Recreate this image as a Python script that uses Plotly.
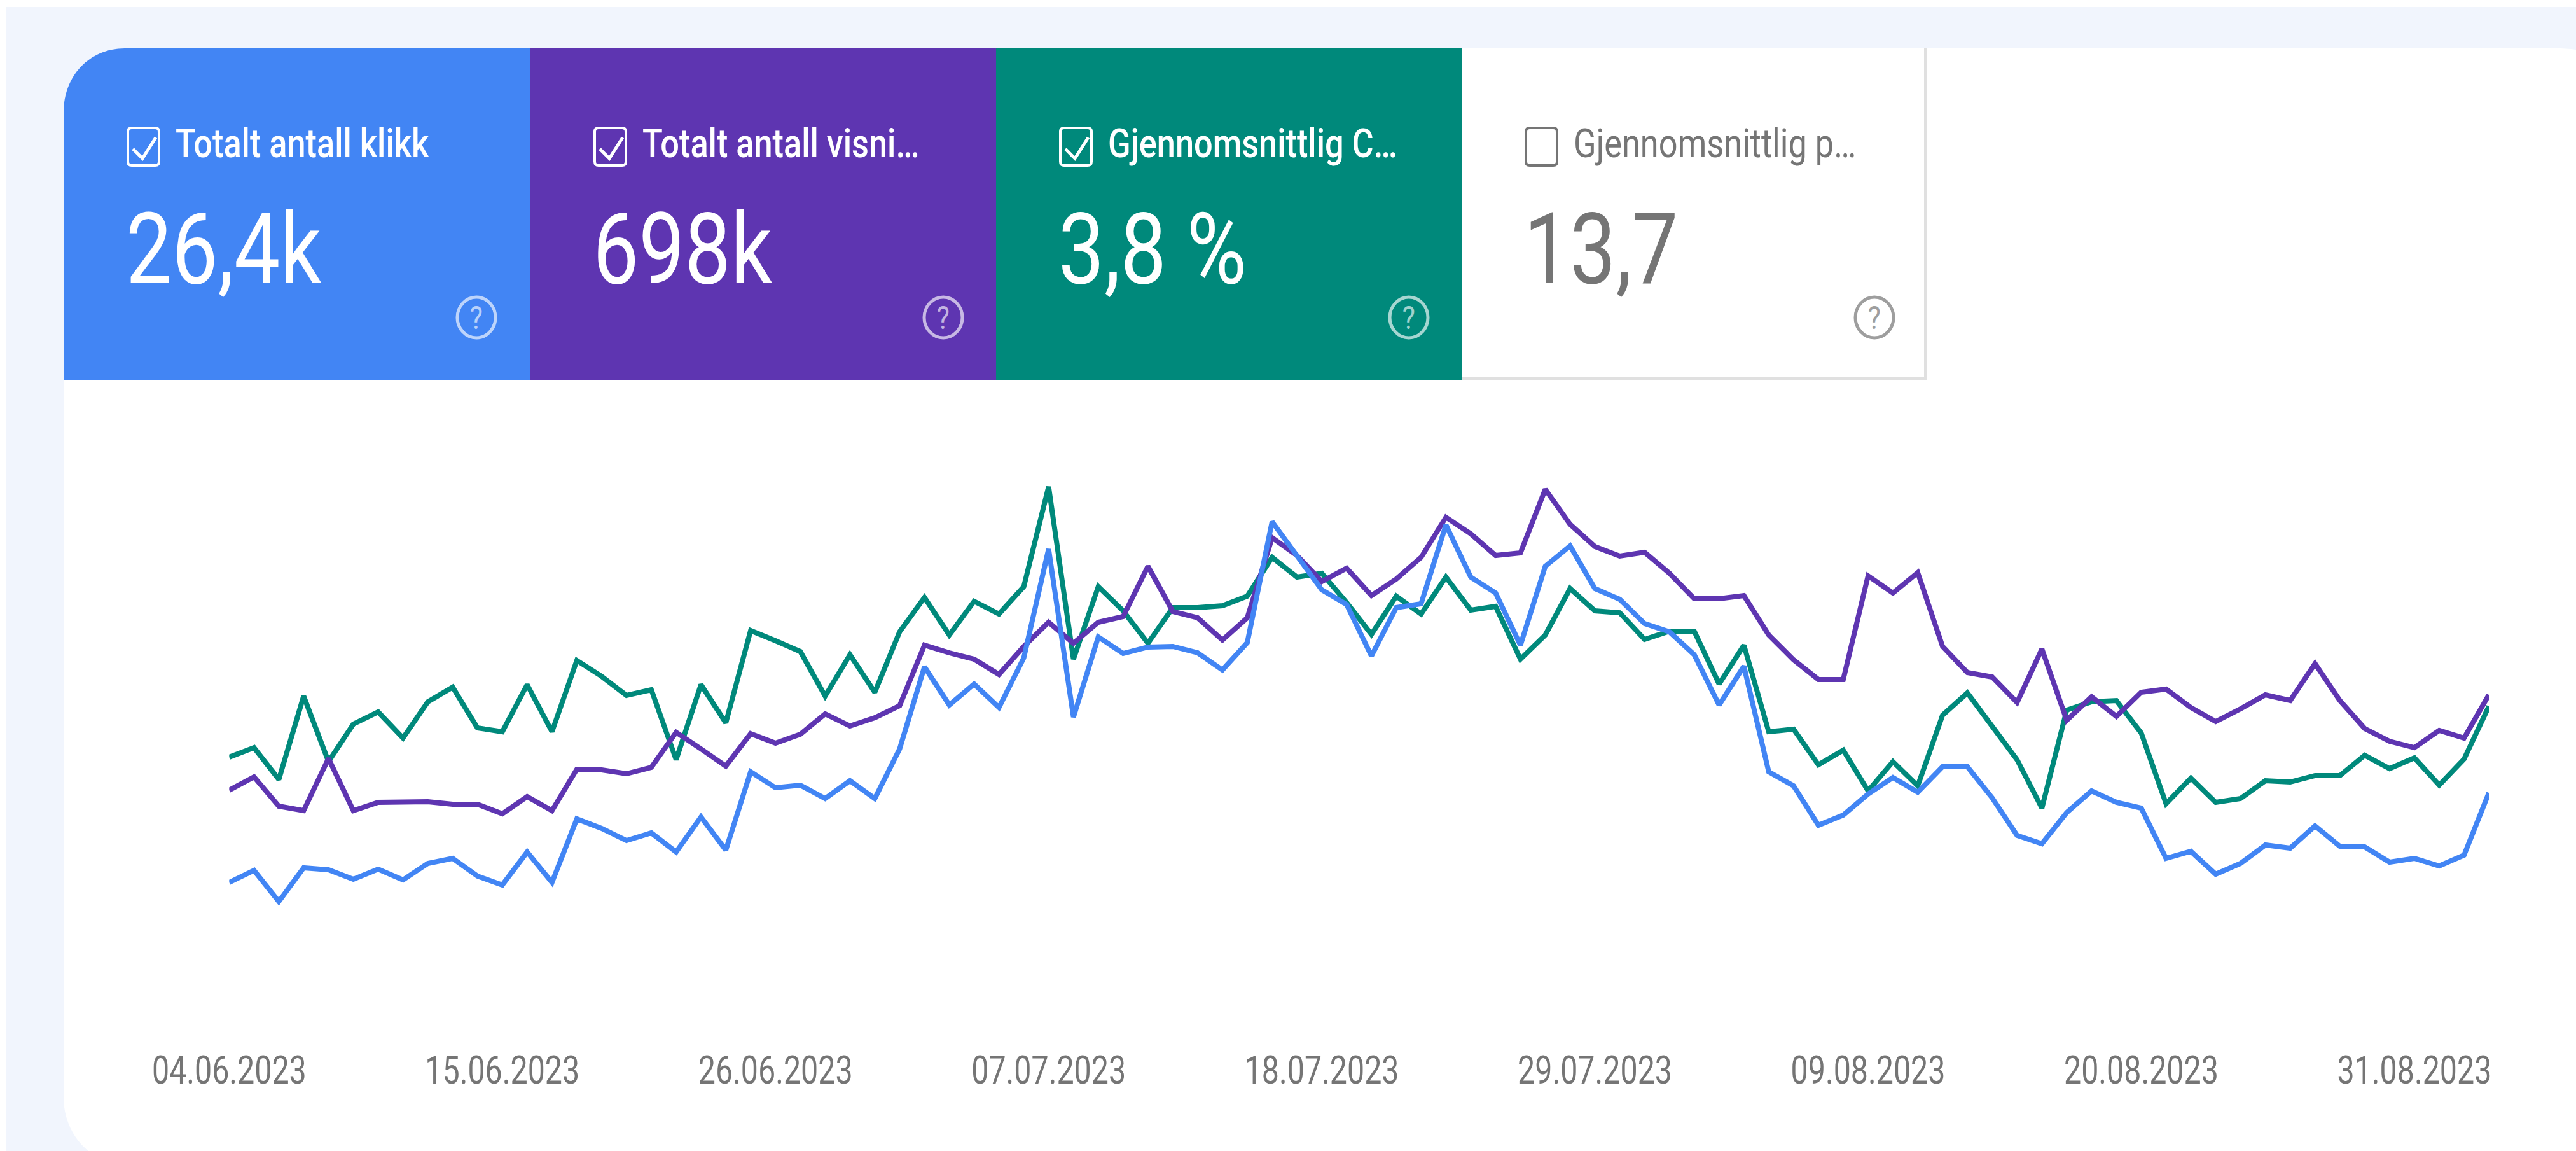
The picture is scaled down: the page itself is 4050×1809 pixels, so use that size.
import pandas as pd
import plotly.graph_objects as go

W, H = 4050, 1809

ctr = [410,425,375,506,403,462,481,440,497,520,456,450,524,450,562,537,507,516,406,524,464,609,
       593,576,506,571,512,607,661,602,655,635,678,835,564,678,640,589,645,645,648,663,724,693,
       699,653,603,663,635,693,641,647,564,602,675,640,637,595,608,608,525,586,450,454,398,421,
       357,403,365,476,511,457,406,330,484,497,499,448,337,377,339,345,373,371,381,381,413,392,
       409,366,407,490]
impressions = [358,379,333,326,408,326,339,339,340,336,336,321,348,326,391,390,384,394,449,423,396,447,
               432,446,478,459,472,491,586,574,564,540,584,622,589,622,631,710,639,629,594,629,755,727,
               686,707,664,690,724,787,761,727,731,831,776,741,726,732,699,659,659,664,602,563,532,532,
               695,668,700,584,543,536,496,580,468,505,474,512,517,488,466,486,508,499,557,499,455,435,
               425,452,440,508]
clicks = [213,232,183,236,233,218,234,217,243,251,223,209,261,213,313,298,279,291,261,316,264,387,
          362,366,345,373,345,423,552,492,525,488,566,737,473,599,573,583,584,574,547,590,780,727,
          673,650,569,645,651,775,693,668,586,710,742,675,658,620,607,571,492,553,387,365,303,319,
          352,378,355,395,395,346,287,274,323,357,339,330,251,262,226,243,272,267,302,270,269,245,
          251,239,256,354]

dates = pd.date_range("2023-06-04", periods=len(clicks)).strftime("%Y-%m-%d").tolist()
tick_dates = ["2023-06-04","2023-06-15","2023-06-26","2023-07-07","2023-07-18",
              "2023-07-29","2023-08-09","2023-08-20","2023-08-31"]
tick_labels = ["04.06.2023","15.06.2023","26.06.2023","07.07.2023","18.07.2023",
               "29.07.2023","09.08.2023","20.08.2023","31.08.2023"]

tile_labels = ["Totalt antall klikk","Totalt antall visni…","Gjennomsnittlig C…","Gjennomsnittlig p…"]
tile_values = ["26,4k","698k","3,8 %","13,7"]
tile_colors = ["#4285f4","#5e35b1","#00897b","#ffffff"]
tile_checked = [True, True, True, False]
tile_starts = [100, 834, 1566, 2298]

BG = "#f1f5fd"
GREY = "#757575"
FONT = "Roboto, sans-serif"

def px(x): return x / W
def py(y): return 1 - y / H
def path(*cmds):
    out = []
    for c in cmds:
        if isinstance(c, str):
            out.append(c)
        else:
            out.append(f"{px(c[0]):.6f},{py(c[1]):.6f}")
    return " ".join(out)

fig = go.Figure()
for vals, col, name in [(ctr, "#00897b", "CTR"), (impressions, "#5e35b1", "Visninger"), (clicks, "#4285f4", "Klikk")]:
    fig.add_trace(go.Scatter(x=dates, y=vals, mode="lines", name=name,
                             line=dict(color=col, width=8, shape="linear"), hoverinfo="skip"))

shapes = []
def add(**k):
    k.setdefault("xref", "paper"); k.setdefault("yref", "paper"); k.setdefault("layer", "below")
    shapes.append(k)

# page background and card
add(type="rect", x0=px(10), x1=1, y0=0, y1=py(11), fillcolor=BG, line_width=0)
card = path("M", (100, 176), "C", (100, 120), (140, 76), (196, 76), "L", (4017, 76),
            "C", (4050, 76), (4080, 80), (4110, 100), "L", (4110, 1830), "L", (200, 1830),
            "C", (140, 1830), (100, 1780), (100, 1725), "Z")
add(type="path", path=card, fillcolor="#ffffff", line_width=0)

annotations = []
for s, lab, val, col, chk in zip(tile_starts, tile_labels, tile_values, tile_colors, tile_checked):
    fg = "#ffffff" if chk else GREY
    if s == tile_starts[0]:
        p = path("M", (100, 598), "L", (100, 176), "C", (100, 120), (140, 76), (196, 76),
                 "L", (s + 734, 76), "L", (s + 734, 598), "Z")
        add(type="path", path=p, fillcolor=col, line_width=0)
    elif chk:
        add(type="rect", x0=px(s), x1=px(s + 732), y0=py(598), y1=py(76), fillcolor=col, line_width=0)
    else:
        add(type="path", path=path("M", (3027, 76), "L", (3027, 595), "L", (s, 595)),
            line=dict(color="#e0e0e0", width=4))
    # checkbox
    bx0, bx1, by0, by1 = s + 101, s + 150, 201, 260
    box = path("M", (bx0 + 6, by0), "L", (bx1 - 6, by0), "Q", (bx1, by0), (bx1, by0 + 6),
               "L", (bx1, by1 - 6), "Q", (bx1, by1), (bx1 - 6, by1), "L", (bx0 + 6, by1),
               "Q", (bx0, by1), (bx0, by1 - 6), "L", (bx0, by0 + 6), "Q", (bx0, by0), (bx0 + 6, by0), "Z")
    add(type="path", path=box, line=dict(color=fg, width=4))
    if chk:
        add(type="path", path=path("M", (s + 109, 234), "L", (s + 124, 249), "L", (s + 145, 216)),
            line=dict(color=fg, width=5))
    # help icon
    hc = "rgba(255,255,255,0.65)" if chk else "#9e9e9e"
    add(type="circle", x0=px(s + 619), x1=px(s + 679), y0=py(531), y1=py(467), line=dict(color=hc, width=5))
    annotations.append(dict(x=px(s + 649), y=py(500), text="?", showarrow=False, xref="paper", yref="paper",
                            xanchor="center", yanchor="middle", font=dict(family=FONT, size=50, color=hc)))
    annotations.append(dict(x=px(s + 174), y=py(226), text=lab, showarrow=False, xref="paper", yref="paper",
                            xanchor="left", yanchor="middle",
                            font=dict(family=FONT, size=63, color=fg, weight=500 if chk else 400)))
    annotations.append(dict(x=px(s + 96), y=py(392), text=val, showarrow=False, xref="paper", yref="paper",
                            xanchor="left", yanchor="middle", font=dict(family=FONT, size=155, color=fg)))

fig.update_layout(
    width=W, height=H, autosize=False, showlegend=False,
    margin=dict(l=0, r=0, t=0, b=0, pad=0),
    paper_bgcolor="#ffffff", plot_bgcolor="rgba(0,0,0,0)",
    shapes=shapes, annotations=annotations,
    xaxis=dict(type="date", domain=[360.3 / W, 3913 / W], range=[dates[0], dates[-1]],
               tickmode="array", tickvals=tick_dates, ticktext=tick_labels,
               showgrid=False, zeroline=False, showline=False, ticks="",
               tickfont=dict(family=FONT, size=62, color=GREY), automargin=False),
    yaxis=dict(domain=[1 - 1640 / H, 1 - 700 / H], range=[-40, 900], visible=False, automargin=False),
)

# The reference text is horizontally squeezed; scale glyphs in x, keeping them real text.
squeeze_js = """
document.body.style.margin='0';document.body.style.overflow='hidden';
function squeeze(){
  document.querySelectorAll('text.annotation-text, .xtick text').forEach(function(t){
    if(t.dataset.sq) return;
    var b=t.getBBox(); if(!b.width) return;
    var isTick=!t.classList.contains('annotation-text');
    var single=t.textContent==='?';
    var s=isTick?0.78:(single?0.85:0.83);
    var cx=(isTick||single)?b.x+b.width/2:b.x;
    var cur=t.getAttribute('transform')||'';
    t.setAttribute('transform',cur+' translate('+cx+',0) scale('+s+',1) translate('+(-cx)+',0)');
    t.dataset.sq='1';
  });
}
squeeze();setTimeout(squeeze,100);setTimeout(squeeze,500);
"""
fig.write_html("out.html", config={"displayModeBar": False}, post_script=squeeze_js)
